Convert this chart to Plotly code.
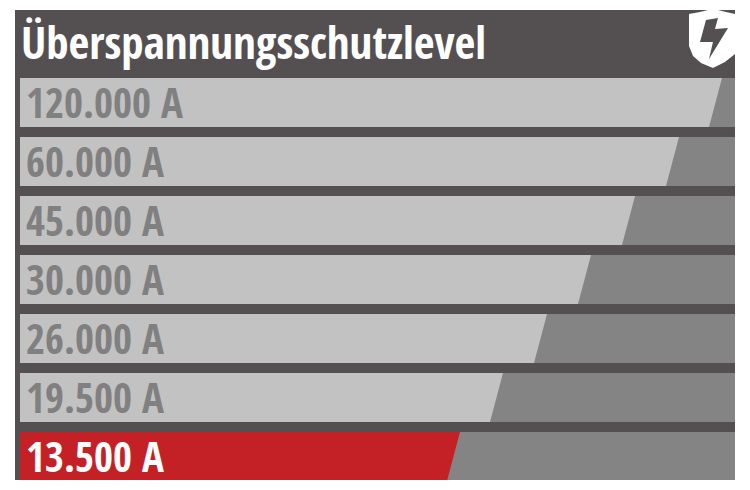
import plotly.graph_objects as go

# Werte
titel = "Überspannungsschutzlevel"
stufen = ["120.000 A", "60.000 A", "45.000 A", "30.000 A", "26.000 A", "19.500 A", "13.500 A"]
laenge_oben = [707, 664, 620, 576, 532, 488, 445]
laenge_unten = [694, 651, 607, 563, 519, 475, 432]

DUNKEL = "#545052"
HELL = "#c2c2c2"
SPUR = "#848484"
ROT = "#c42127"
TEXT_GRAU = "#808080"
SCHRIFT = "Open Sans Condensed"

# die Seite hat 8 px Rand, deshalb kleiner als das Fenster
BREITE, HOEHE = 742, 482
RAND = 8
L, R, O, U = 7, 15, 2, 10
LINKS = 5
ENDE = 720
HALB = 0.415


# Pixel im Bild nach paper-Koordinaten
def pfad(punkte):
    teile = []
    for i, (x, y) in enumerate(punkte):
        px = (x - RAND - L) / (BREITE - L - R)
        py = 1 - (y - RAND - O) / (HOEHE - O - U)
        teile.append(f"{'M' if i == 0 else 'L'} {px:.4f} {py:.4f}")
    return " ".join(teile) + " Z"


fig = go.Figure()

# Hintergrundspur jeder Zeile
fig.add_trace(go.Bar(
    y=list(range(len(stufen))), x=[ENDE - LINKS] * len(stufen), base=LINKS,
    orientation="h", width=2 * HALB,
    marker=dict(color=SPUR, line=dict(width=0)),
    hoverinfo="skip", showlegend=False,
))

# Balken mit schraegem Ende
for i, name in enumerate(stufen):
    farbe = ROT if i == len(stufen) - 1 else HELL
    fig.add_trace(go.Scatter(
        x=[LINKS, laenge_oben[i], laenge_unten[i], LINKS, LINKS],
        y=[i - HALB, i - HALB, i + HALB, i + HALB, i - HALB],
        mode="lines", fill="toself", fillcolor=farbe,
        line=dict(width=0), name=name, showlegend=False,
    ))
    fig.add_annotation(
        x=LINKS + 4, y=i, text=f"<b>{name}</b>", showarrow=False,
        xanchor="left", yanchor="middle",
        font=dict(family=SCHRIFT, size=41, color="white" if i == len(stufen) - 1 else TEXT_GRAU),
    )

fig.add_annotation(
    x=LINKS - 1, y=-1.03, text=f"<b>{titel}</b>", showarrow=False,
    xanchor="left", yanchor="middle",
    font=dict(family=SCHRIFT, size=45, color="white"),
)

# Schild-Symbol oben rechts
schild = [(689, 14), (700, 12), (708, 10), (718, 10), (726, 12), (735, 14), (735, 54), (725, 62), (713, 68), (701, 63), (693, 56), (689, 46)]
blitz = [(706, 20), (718, 18), (715, 29), (728, 28), (709, 59), (713, 42), (700, 42)]
fig.add_shape(type="path", xref="paper", yref="paper", path=pfad(schild), fillcolor="white", line=dict(width=0))
fig.add_shape(type="path", xref="paper", yref="paper", path=pfad(blitz), fillcolor=DUNKEL, line=dict(width=0))

fig.update_layout(
    width=BREITE, height=HOEHE,
    margin=dict(l=L, r=R, t=O, b=U),
    paper_bgcolor="white", plot_bgcolor=DUNKEL,
    xaxis=dict(range=[0, ENDE], visible=False, fixedrange=True),
    yaxis=dict(range=[6.4, -1.568], visible=False, fixedrange=True),
    showlegend=False,
)

fig.write_html("out.html")
